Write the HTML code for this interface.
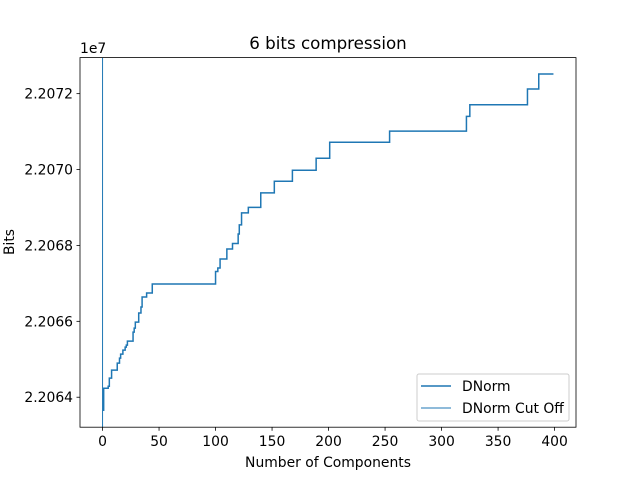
<!DOCTYPE html>
<html><head><meta charset="utf-8"><style>
body{margin:0;background:#fff}
svg text{font-family:"DejaVu Sans","Liberation Sans",sans-serif;fill:#000}
</style></head><body>
<svg id="chart" width="640" height="480" xmlns="http://www.w3.org/2000/svg">
<rect x="0" y="0" width="640" height="480" fill="#fff"/>
<g id="plot"></g>
</svg>
<script>
const stepX=[0,1,5,6,8,13,15,16,18,20,21,22,27,28,29,32,34,35,39,44,100,102,104,110,115,120,121,123,129,140,152,168,189,201,254,322,325,376,386];
const stepY=[22063657,22064238,22064290,22064502,22064713,22064898,22065030,22065135,22065241,22065320,22065373,22065478,22065716,22065822,22065980,22066218,22066376,22066640,22066746,22066983,22067313,22067406,22067643,22067907,22068052,22068303,22068541,22068858,22069003,22069386,22069690,22069980,22070296,22070719,22071014,22071400,22071709,22072123,22072519];
const lastX=399;
const cutOffX=0;
const xTicks=[0,50,100,150,200,250,300,350,400];
const yTicks=[22064000,22066000,22068000,22070000,22072000];
const yTickLabels=["2.2064","2.2066","2.2068","2.2070","2.2072"];

const L=80,R=576,T=57.6,B=427.2;
const xmin=-19.95,xmax=418.95,ymin=22063210,ymax=22072950;
const sx=v=>L+(v-xmin)/(xmax-xmin)*(R-L);
const sy=v=>B-(v-ymin)/(ymax-ymin)*(B-T);
const NS="http://www.w3.org/2000/svg";
const g=document.getElementById('plot');
function mk(tag,attrs,parent){const e=document.createElementNS(NS,tag);for(const k in attrs)e.setAttribute(k,attrs[k]);(parent||g).appendChild(e);return e;}

const clip=mk('clipPath',{id:'cp'});mk('rect',{x:L,y:T,width:R-L,height:B-T},clip);

let d='';
for(let i=0;i<stepX.length;i++){
  const x=sx(stepX[i]),y=sy(stepY[i]);
  if(i===0)d+='M'+x+' '+y;else d+=' H'+x+' V'+y;
}
d+=' H'+sx(lastX);
const line=mk('path',{d:d,fill:'none',stroke:'#1f77b4','stroke-width':1.5,'clip-path':'url(#cp)'});


const cut=mk('line',{x1:sx(cutOffX),x2:sx(cutOffX),y1:T,y2:B,stroke:'#1f77b4','stroke-width':1});



const frame=mk('rect',{x:L,y:T,width:R-L,height:B-T,fill:'none',stroke:'#000','stroke-width':0.8});



xTicks.forEach(v=>{
  const x=sx(v);
  mk('line',{x1:x,x2:x,y1:B,y2:B+3.5,stroke:'#000','stroke-width':0.8});
  const t=mk('text',{x:x,y:B+19,'text-anchor':'middle','font-size':13.9});
  t.textContent=v;
  
  
});
yTicks.forEach((v,i)=>{
  const y=sy(v);
  mk('line',{x1:L-3.5,x2:L,y1:y,y2:y,stroke:'#000','stroke-width':0.8});
  const t=mk('text',{x:L-7,y:y+5,'text-anchor':'end','font-size':13.9});
  t.textContent=yTickLabels[i];
  
  
});
</script>
<svg style="position:absolute;left:0;top:0" width="640" height="480" xmlns="http://www.w3.org/2000/svg">
<text x="80" y="53" font-size="13.9">1e7</text>
<text x="328" y="49" text-anchor="middle" font-size="16.7">6 bits compression</text>
<text x="328" y="467" text-anchor="middle" font-size="13.9">Number of Components</text>
<text transform="translate(14,242) rotate(-90)" text-anchor="middle" font-size="13.9">Bits</text>
<g>
<rect x="417" y="374" width="152" height="47" rx="2" fill="#fff" fill-opacity="0.8" stroke="#ccc" stroke-width="1"/>
<line x1="421" x2="451" y1="386" y2="386" stroke="#1f77b4" stroke-width="1.5"/>
<text x="462" y="391" font-size="13.9">DNorm</text>
<line x1="421" x2="451" y1="408" y2="408" stroke="#1f77b4" stroke-width="1"/>
<text x="462" y="413" font-size="13.9">DNorm Cut Off</text>
</g>
</svg>
</body></html>
